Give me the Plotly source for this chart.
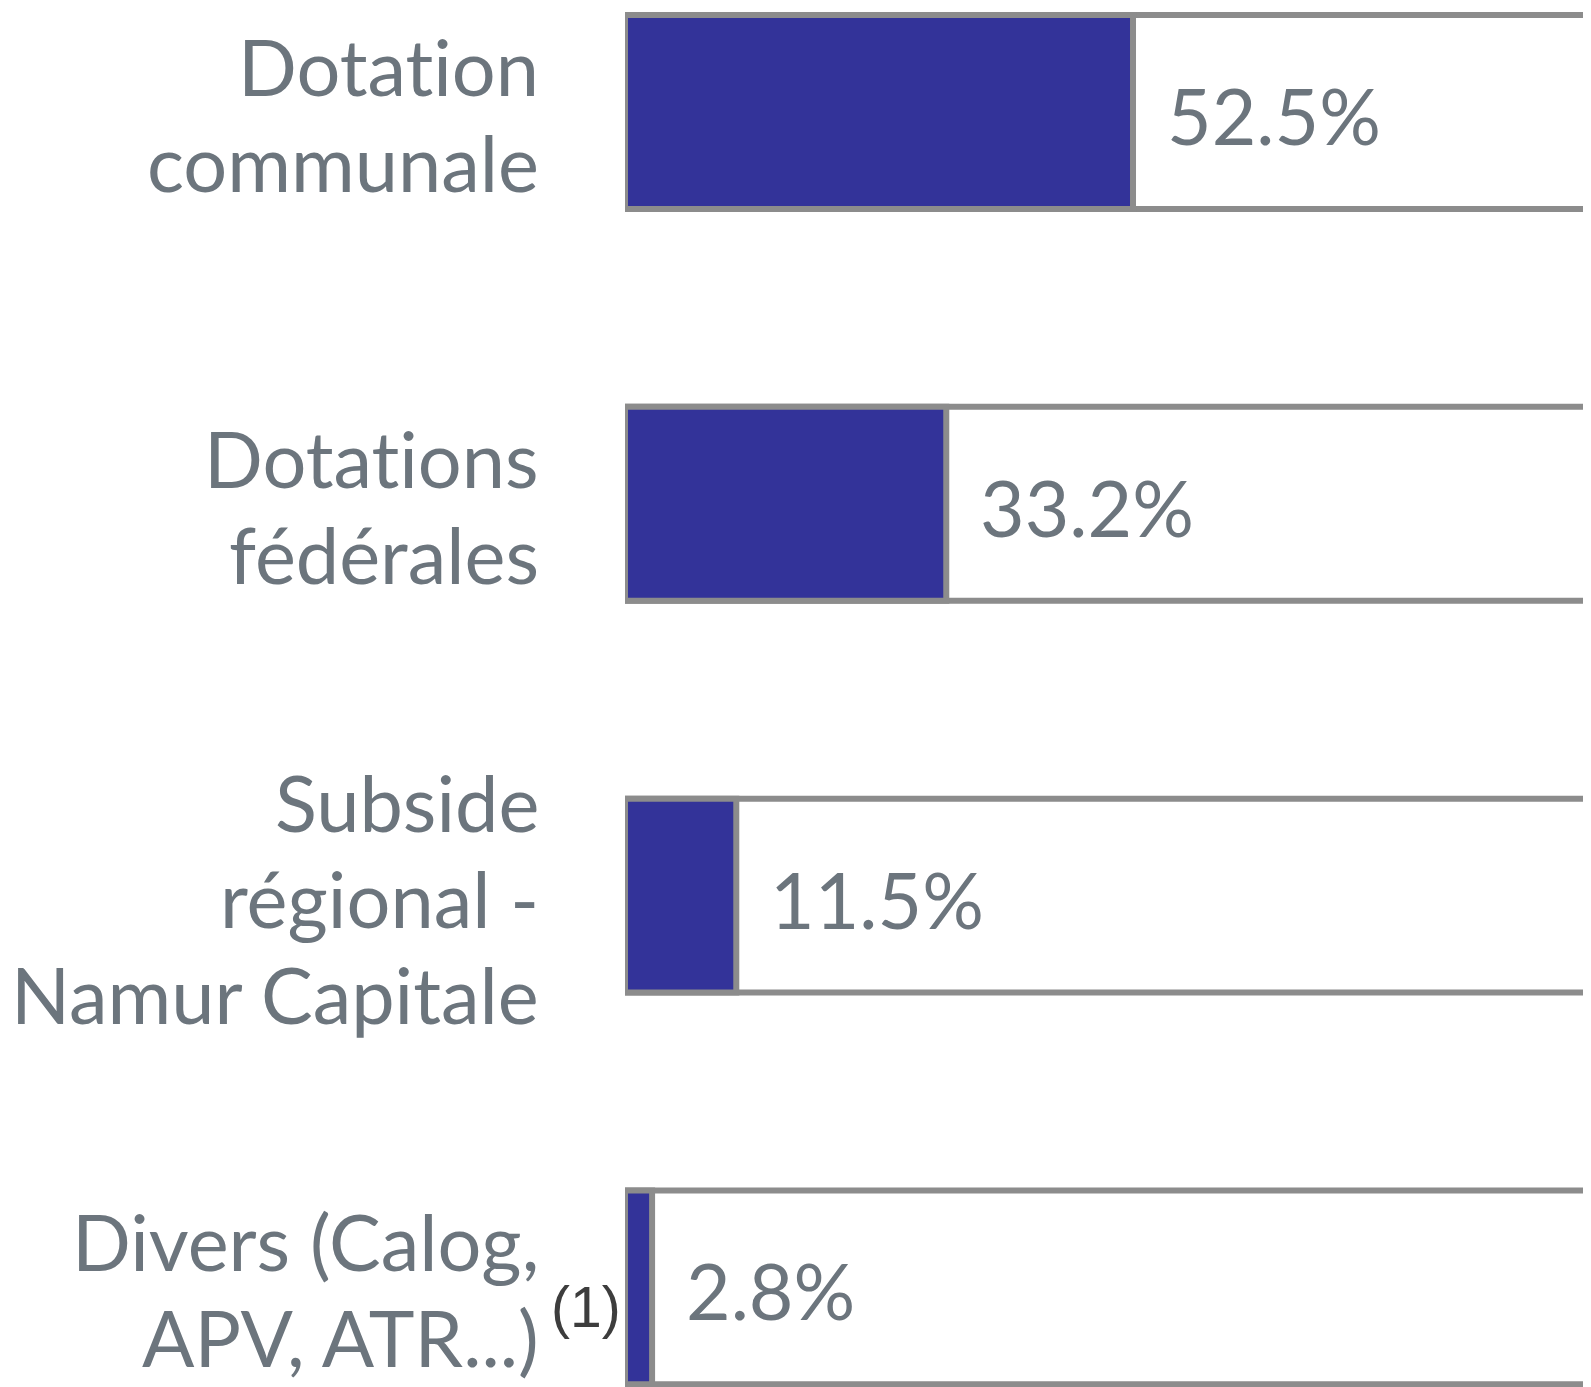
import plotly.graph_objects as go

categories = [
    "Dotation<br>communale",
    "Dotations<br>fédérales",
    "Subside<br>régional -<br>Namur Capitale",
    "Divers (Calog,<br>APV, ATR...)",
]
values = [52.5, 33.2, 11.5, 2.8]
value_labels = ["52.5%", "33.2%", "11.5%", "2.8%"]
total = [100, 100, 100, 100]
footnote_label = "(1)"
footnote_category = categories[3]

GREY_TEXT = "#6c757d"
BORDER = "#8c8c8c"
BLUE = "#333399"
LINE_GAP = 96  # px between label baselines

fig = go.Figure()
fig.add_trace(go.Bar(
    y=categories, x=total, orientation="h", width=0.495,
    marker=dict(color="white", line=dict(color=BORDER, width=6)),
    hoverinfo="skip", showlegend=False,
))
fig.add_trace(go.Bar(
    y=categories, x=values, orientation="h", width=0.495,
    marker=dict(color=BLUE, line=dict(color=BORDER, width=6)),
    showlegend=False,
))

# value labels
for cat, v, lab in zip(categories, values, value_labels):
    fig.add_annotation(
        x=v, y=cat, xref="x", yref="y", text=lab, showarrow=False,
        xanchor="left", yanchor="middle", xshift=32, yshift=-3,
        font=dict(family="Lato", size=77, color=GREY_TEXT),
    )

# category labels, one annotation per line (tighter line spacing than Plotly's default)
for cat in categories:
    lines = cat.split("<br>")
    n = len(lines)
    for i, line in enumerate(lines):
        off = (i - (n - 1) / 2) * LINE_GAP + 2.4
        fig.add_annotation(
            x=0, y=cat, xref="paper", yref="y",
            text='<span style="font-variant-ligatures:none">' + line + "</span>",
            showarrow=False, xanchor="right", yanchor="middle",
            xshift=-85, yshift=-off, borderpad=0,
            font=dict(family="Lato", size=77.5, color=GREY_TEXT),
        )

fig.add_annotation(
    x=0, y=footnote_category, xref="paper", yref="y", text=footnote_label,
    showarrow=False, xanchor="right", yanchor="middle", xshift=-2, yshift=-20,
    font=dict(family="Liberation Sans", size=57, color="#3d3d3d"),
)

fig.update_layout(
    width=1583, height=1379,
    margin=dict(l=617, r=0, t=0, b=0),
    barmode="overlay",
    paper_bgcolor="white", plot_bgcolor="white",
    xaxis=dict(range=[0, 99.83], visible=False),
    yaxis=dict(
        categoryorder="array", categoryarray=categories,
        range=[3.2542, -0.2654],
        showgrid=False, zeroline=False, showline=False, ticks="",
        showticklabels=False,
    ),
)

fig.write_html("out.html")
